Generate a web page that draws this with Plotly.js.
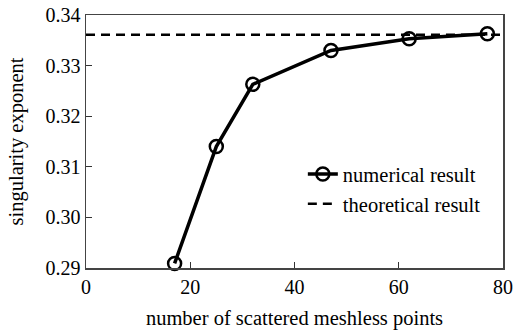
<!DOCTYPE html>
<html><head><meta charset="utf-8">
<script src="https://cdn.plot.ly/plotly-3.0.1.min.js"></script>
<style>html,body{margin:0;padding:0;background:#fff}</style>
</head><body>
<div id="chart" style="width:513px;height:332px"></div>
<script>
const pointsX = [17, 25, 32, 47, 62, 77];
const exponentY = [0.2909, 0.3140, 0.3263, 0.3330, 0.3353, 0.3363];
const theoryX = [0, 80];
const theoryY = [0.3361, 0.3361];
const seriesNames = ['numerical result', 'theoretical result'];
const xTicks = [0, 20, 40, 60, 80];
const yTicks = [0.29, 0.30, 0.31, 0.32, 0.33, 0.34];

const fam = 'Liberation Serif, serif';
const data = [
  {x: pointsX, y: exponentY, name: seriesNames[0], mode: 'lines+markers', type: 'scatter',
   line: {color: '#000', width: 3.5},
   marker: {symbol: 'circle-open', size: 13, color: '#000', line: {width: 2.5, color: '#000'}},
   cliponaxis: false},
  {x: theoryX, y: theoryY, name: seriesNames[1], mode: 'lines', type: 'scatter',
   line: {color: '#000', width: 2.5, dash: '9px,6px'}}
];
const layout = {
  width: 513, height: 332,
  margin: {l: 86, r: 10, t: 15, b: 64},
  paper_bgcolor: '#fff', plot_bgcolor: '#fff',
  font: {family: fam, color: '#000', size: 20},
  showlegend: true,
  legend: {x: 0.52, y: 0.45, xanchor: 'left', yanchor: 'top', bgcolor: 'rgba(0,0,0,0)',
    font: {family: fam, size: 20.5, color: '#000'}, tracegroupgap: 0},
  xaxis: {range: [0, 80], tickvals: xTicks, ticks: 'inside', ticklen: 6, tickcolor: '#333',
    showline: true, linecolor: '#444', linewidth: 1.5, mirror: true, showgrid: false, zeroline: false,
    tickfont: {family: fam, size: 20, color: '#000'},
    title: {text: 'number of scattered meshless points', font: {family: fam, size: 20.5, color: '#000'}, standoff: 14}},
  yaxis: {range: [0.29, 0.34], tickvals: yTicks, tickformat: '.2f', ticks: 'inside', ticklen: 6, tickcolor: '#333',
    showline: true, linecolor: '#444', linewidth: 1.5, mirror: true, showgrid: false, zeroline: false,
    tickfont: {family: fam, size: 20, color: '#000'},
    title: {text: 'singularity exponent', font: {family: fam, size: 20.5, color: '#000'}, standoff: 16}}
};
Plotly.newPlot('chart', data, layout, {displayModeBar: false, staticPlot: true});
</script>
</body></html>
